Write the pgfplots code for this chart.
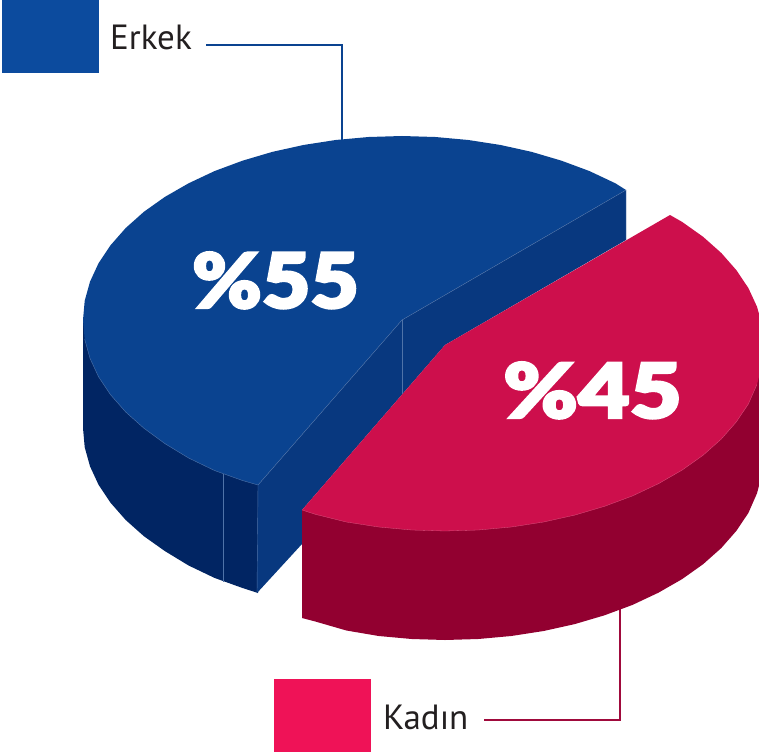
\documentclass[border=0pt]{standalone}
\usepackage{fontspec}
\usepackage{graphicx}
\usepackage{pgfplots}
\pgfplotsset{compat=1.18}
\setmainfont{PT Sans}
\newfontfamily\heavy[FakeBold=3,FakeStretch=1.1]{Lato Black}
\definecolor{bluetop}{HTML}{0A4390}
\definecolor{bluewall}{HTML}{08387F}
\definecolor{bluedark}{HTML}{012563}
\definecolor{bluekey}{HTML}{0C4B9E}
\definecolor{blueedge}{HTML}{4F73A8}
\definecolor{redtop}{HTML}{CD0F4C}
\definecolor{reddark}{HTML}{920030}
\definecolor{redkey}{HTML}{EF1257}
\definecolor{rededge}{HTML}{DB5580}
\definecolor{redline}{HTML}{A00A3C}
\definecolor{inkc}{HTML}{231F20}
\begin{document}
\begin{tikzpicture}
\path (0,0) rectangle (759pt,754pt);
\begin{axis}[
  at={(0,0)}, anchor=south west,
  scale only axis, width=759pt, height=754pt,
  xmin=0, xmax=759, ymin=0, ymax=754, y dir=reverse,
  axis lines=none, clip=true, clip mode=individual,
  piece/.style={fill=#1, draw=none},
]
% legend keys
\addplot[fill=bluekey, draw=none] coordinates {(2,0) (99,0) (99,73) (2,73)} -- cycle;
\addplot[fill=redkey, draw=none] coordinates {(274,679) (371,679) (371,752) (274,752)} -- cycle;
% leader lines
\addplot[color=bluetop, line width=2.8pt] coordinates {(206,45) (342,45) (342,142)};
\addplot[color=redline, line width=2.8pt] coordinates {(484,720) (620,720) (620,600)};
% blue outer side
\addplot[piece=bluedark] coordinates {(83,320) (83,428) (84.7,447.2) (90,466.3) (98.6,484.9) (110.6,502.8) (125.7,520) (143.9,536.2) (164.9,551.1) (188.6,565.5) (214.5,577.9) (242.5,588) (258,593) (258,485)} -- cycle;
% blue top
\addplot[piece=bluetop] coordinates {(626,190) (615.4,183.3) (589.5,171.1) (561.5,160.7) (531.7,151.9) (500.6,145) (468.3,140) (435.3,137) (402,136) (368.7,137) (335.7,140) (303.4,145) (272.3,151.9) (242.5,160.7) (214.5,171.1) (188.6,183.3) (164.9,196.9) (143.9,211.8) (125.7,228) (110.6,245.2) (98.6,263.1) (90,281.7) (84.7,300.8) (83,320) (84.7,339.2) (90,358.3) (98.6,376.9) (110.6,394.8) (125.7,412) (143.9,428.2) (164.9,443.6) (188.6,458) (214.5,470.5) (242.5,480.5) (258,485) (402,320)} -- cycle;
% blue inner walls
\addplot[piece=bluewall] coordinates {(258,485) (402,320) (626,190) (626,240) (445,345) (302,510) (302,544) (257,593)} -- cycle;
% thin highlights on blue
\addplot[color=blueedge, line width=0.4pt] coordinates {(258,485) (402,320) (626,190) (626,240)};
\addplot[color=blueedge, line width=0.4pt] coordinates {(402,320) (402,397)};
\addplot[color=blueedge, line width=0.4pt] coordinates {(258,485) (257,593)};
\addplot[color=blueedge, line width=0.3pt] coordinates {(223,474) (223,582)};
\addplot[color=blueedge, line width=0.4pt] coordinates {(84.7,339.2) (90,358.3) (98.6,376.9) (110.6,394.8) (125.7,412) (143.9,428.2) (164.9,443.6) (188.6,458) (214.5,470.5) (242.5,480.5) (258,485)};
% red outer side
\addplot[piece=reddark] coordinates {(764,345) (764,454) (762.3,473.2) (757,493.3) (748.4,512.9) (736.4,530.8) (721.3,548) (703.1,564.2) (682.1,579.1) (658.4,592.7) (632.5,604.9) (604.5,615.3) (574.7,624.1) (543.6,631) (511.3,636) (478.3,639) (445,640) (411.7,639) (378.7,636) (346.4,630.5) (315.3,621.5) (302,618) (302,510)} -- cycle;
% red top
\addplot[piece=redtop] coordinates {(670,215) (682.1,221.9) (703.1,236.8) (721.3,253) (736.4,270.2) (748.4,288.1) (757,306.7) (762.3,325.8) (764,345) (762.3,364.2) (757,384.3) (748.4,403.9) (736.4,421.8) (721.3,439) (703.1,455.2) (682.1,470.1) (658.4,483.7) (632.5,495.9) (604.5,506.3) (574.7,515.1) (543.6,522) (511.3,527) (478.3,530) (445,531) (411.7,530) (378.7,527) (346.4,522) (315.3,514.3) (302,510) (445,345)} -- cycle;
\addplot[color=rededge, line width=0.3pt] coordinates {(757,384.3) (748.4,403.9) (736.4,421.8) (721.3,439) (703.1,455.2) (682.1,470.1) (658.4,483.7) (632.5,495.9) (604.5,506.3) (574.7,515.1) (543.6,522) (511.3,527) (478.3,530) (445,531) (411.7,530) (378.7,527) (346.4,522) (315.3,514.3) (302,510)};
% text
\node[anchor=base west, inner sep=0pt, text=inkc, font=\fontsize{35}{35}\selectfont] at (axis cs:110,50) {Erkek};
\node[anchor=base west, inner sep=0pt, text=inkc, font=\fontsize{35}{35}\selectfont] at (axis cs:383,729) {Kadın};
\node[anchor=base, inner sep=0pt, text=white, font=\fontsize{76}{76}\heavy] at (axis cs:275.5,308) {\%55};
\node[anchor=base, inner sep=0pt, text=white, font=\fontsize{76}{76}\heavy] at (axis cs:592.5,418) {\scalebox{1.07}[1]{\%45}};
\end{axis}
\end{tikzpicture}
\end{document}
